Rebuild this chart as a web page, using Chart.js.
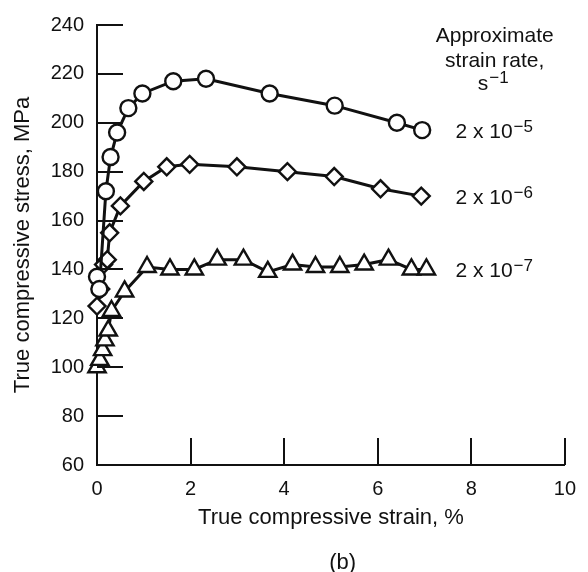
<!DOCTYPE html>
<html>
<head>
<meta charset="utf-8">
<script src="https://cdn.jsdelivr.net/npm/chart.js@4/dist/chart.umd.min.js"></script>
<style>
  html, body { margin: 0; padding: 0; background: #fff; }
  #wrap { width: 588px; height: 572px; }
</style>
</head>
<body>
<div id="wrap"><canvas id="chart" width="588" height="572"></canvas></div>
<script>
// strain (%) and stress (MPa) for the three strain rates
const strain5 = [0, 0.05, 0.19, 0.29, 0.43, 0.67, 0.97, 1.63, 2.33, 3.69, 5.08, 6.41, 6.95];
const stress5 = [137, 132, 172, 186, 196, 206, 212, 217, 218, 212, 207, 200, 197];

const strain6 = [0, 0.08, 0.14, 0.22, 0.27, 0.5, 1.0, 1.49, 1.98, 2.99, 4.07, 5.07, 6.06, 6.93];
const stress6 = [125, 132, 142, 144, 155, 166, 176, 182, 183, 182, 180, 178, 173, 170];

const strain7 = [0, 0.06, 0.12, 0.17, 0.24, 0.31, 0.59, 1.07, 1.56, 2.08, 2.57, 3.13, 3.65, 4.18, 4.67, 5.19, 5.71, 6.23, 6.72, 7.04];
const stress7 = [100, 103, 107, 111, 115, 123, 131, 141, 140, 140, 144, 144, 139, 142, 141, 141, 142, 144, 140, 140];

const rateLabels = [
  { base: '2 x 10', exp: '\u22125' },
  { base: '2 x 10', exp: '\u22126' },
  { base: '2 x 10', exp: '\u22127' }
];

const xTicks = [0, 2, 4, 6, 8, 10];
const yTicks = [60, 80, 100, 120, 140, 160, 180, 200, 220, 240];

const FONT = '"Liberation Sans", Arial, sans-serif';
const INK = '#111';

function pts(xs, ys) {
  return xs.map((x, i) => ({ x: x, y: ys[i] }));
}

function series(xs, ys, style, radius) {
  return {
    data: pts(xs, ys),
    showLine: true,
    borderColor: INK,
    borderWidth: 3,
    backgroundColor: '#fff',
    pointStyle: style,
    pointRadius: radius,
    pointBorderWidth: 2.4,
    pointBorderColor: INK,
    pointBackgroundColor: '#fff',
    clip: false
  };
}

// inward tick marks, the rate labels on the right and the panel letter
const decorations = {
  id: 'decorations',
  afterDatasetsDraw(chart) {
    const { ctx, chartArea, scales } = chart;
    const xs = scales.x, ys = scales.y;
    ctx.save();
    ctx.strokeStyle = INK;
    ctx.lineWidth = 2;
    ctx.beginPath();
    yTicks.forEach(v => {
      const py = Math.round(ys.getPixelForValue(v));
      ctx.moveTo(chartArea.left, py);
      ctx.lineTo(chartArea.left + 26, py);
    });
    xTicks.forEach(v => {
      const px = Math.round(xs.getPixelForValue(v));
      ctx.moveTo(px, chartArea.bottom);
      ctx.lineTo(px, chartArea.bottom - 27);
    });
    ctx.stroke();

    ctx.fillStyle = INK;
    ctx.textBaseline = 'alphabetic';

    // header
    ctx.textAlign = 'center';
    ctx.font = '21px ' + FONT;
    const cx = xs.getPixelForValue(8.5);
    ctx.fillText('Approximate', cx, 42);
    ctx.fillText('strain rate,', cx, 67);
    ctx.textAlign = 'left';
    const sw = ctx.measureText('s').width;
    ctx.font = '17px ' + FONT;
    const ew = ctx.measureText('\u22121').width;
    const sx = cx - (sw + ew) / 2 - 2;
    ctx.font = '21px ' + FONT;
    ctx.fillText('s', sx, 90);
    ctx.font = '17px ' + FONT;
    ctx.fillText('\u22121', sx + sw + 1, 83);

    // rate labels, level with the last point of each curve
    const lastY = [stress5[stress5.length - 1], stress6[stress6.length - 1], stress7[stress7.length - 1]];
    const lx = xs.getPixelForValue(7.66);
    rateLabels.forEach((lab, i) => {
      const py = ys.getPixelForValue(lastY[i]);
      ctx.font = '21px ' + FONT;
      ctx.fillText(lab.base, lx, py + 8);
      const bw = ctx.measureText(lab.base).width;
      ctx.font = '17px ' + FONT;
      ctx.fillText(lab.exp, lx + bw + 1, py + 2);
    });

    // panel letter
    ctx.textAlign = 'center';
    ctx.font = '22px ' + FONT;
    ctx.fillText('(b)', xs.getPixelForValue(5.25), 569);
    ctx.restore();
  }
};

new Chart(document.getElementById('chart').getContext('2d'), {
  type: 'scatter',
  data: {
    datasets: [
      series(strain5, stress5, 'circle', 8),
      series(strain6, stress6, 'rectRot', 8.5),
      series(strain7, stress7, 'triangle', 10)
    ]
  },
  options: {
    responsive: false,
    animation: false,
    layout: { padding: { top: 23, right: 13, left: 0, bottom: 0 } },
    plugins: {
      legend: { display: false },
      tooltip: { enabled: false }
    },
    scales: {
      x: {
        type: 'linear',
        min: 0,
        max: 10,
        afterBuildTicks: s => { s.ticks = xTicks.map(v => ({ value: v })); },
        afterFit: s => { s.height = 107; },
        grid: { display: false, drawTicks: false },
        border: { display: true, color: INK, width: 2 },
        ticks: { color: INK, font: { family: FONT, size: 20 }, padding: 12 },
        title: {
          display: true,
          text: 'True compressive strain, %',
          color: INK,
          font: { family: FONT, size: 22 },
          padding: { top: 0, bottom: 41 }
        }
      },
      y: {
        type: 'linear',
        min: 60,
        max: 240,
        afterBuildTicks: s => { s.ticks = yTicks.map(v => ({ value: v })); },
        afterFit: s => { s.width = 97; },
        grid: { display: false, drawTicks: false },
        border: { display: true, color: INK, width: 2 },
        ticks: { color: INK, font: { family: FONT, size: 20 }, padding: 13 },
        title: {
          display: true,
          text: 'True compressive stress, MPa',
          color: INK,
          font: { family: FONT, size: 22 },
          padding: { top: 10, bottom: 0 }
        }
      }
    }
  },
  plugins: [decorations]
});
</script>
</body>
</html>
